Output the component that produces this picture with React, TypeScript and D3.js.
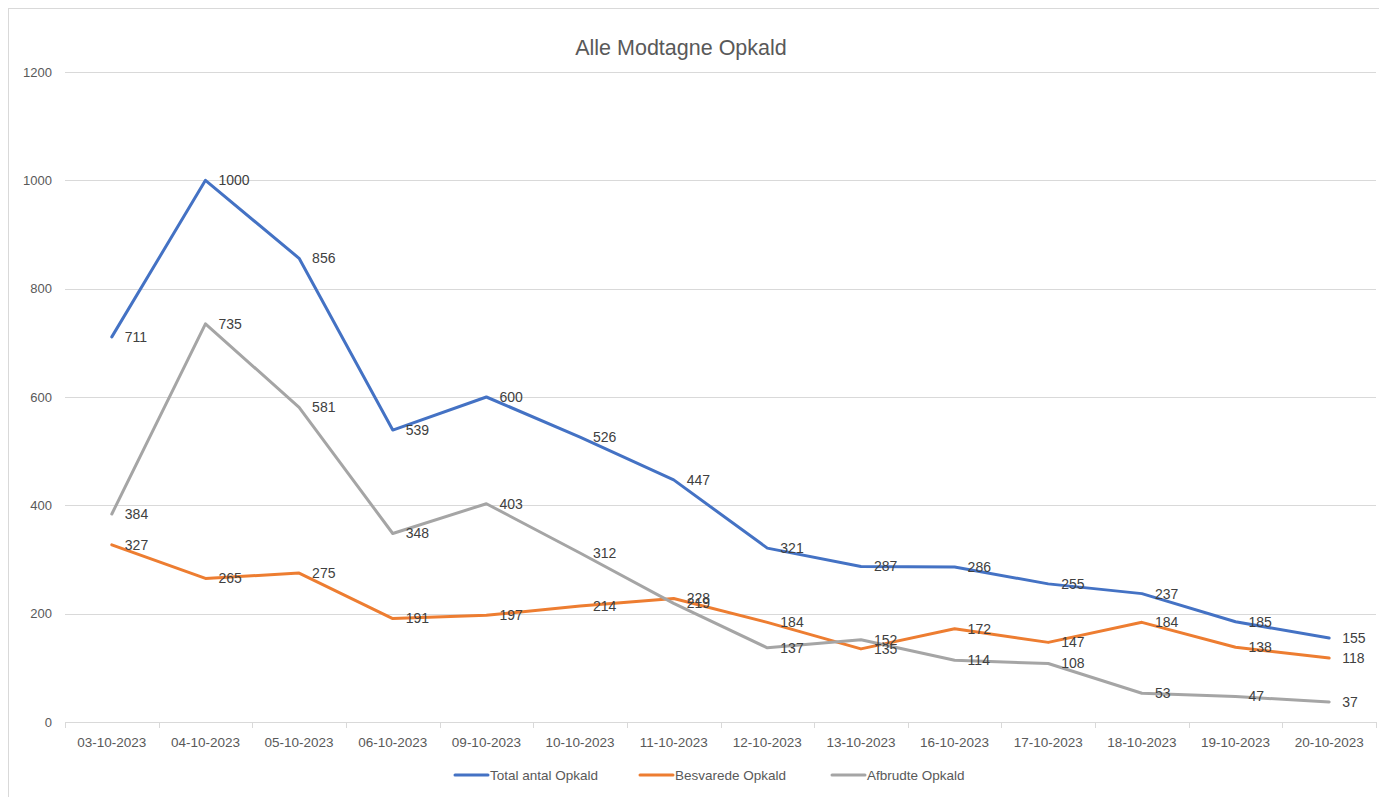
import React from 'react';
import * as d3 from 'd3';

const dates = [
  '03-10-2023', '04-10-2023', '05-10-2023', '06-10-2023', '09-10-2023', '10-10-2023', '11-10-2023',
  '12-10-2023', '13-10-2023', '16-10-2023', '17-10-2023', '18-10-2023', '19-10-2023', '20-10-2023',
];
const totalCalls = [711, 1000, 856, 539, 600, 526, 447, 321, 287, 286, 255, 237, 185, 155];
const answeredCalls = [327, 265, 275, 191, 197, 214, 228, 184, 135, 172, 147, 184, 138, 118];
const droppedCalls = [384, 735, 581, 348, 403, 312, 219, 137, 152, 114, 108, 53, 47, 37];
const yTicks = [0, 200, 400, 600, 800, 1000, 1200];

const series = [
  { name: 'Total antal Opkald', values: totalCalls, color: '#4472C4' },
  { name: 'Besvarede Opkald', values: answeredCalls, color: '#ED7D31' },
  { name: 'Afbrudte Opkald', values: droppedCalls, color: '#A5A5A5' },
];

const W = 1379;
const H = 797;
const FONT = '"Liberation Sans", Arial, sans-serif';

export default function App() {
  const x = d3.scaleBand<string>().domain(dates).range([65, 1376]);
  const y = d3.scaleLinear().domain([0, 1200]).range([722, 72]);
  const cx = (d: string) => (x(d) ?? 0) + x.bandwidth() / 2;

  const line = d3
    .line<number>()
    .x((_, i) => cx(dates[i]))
    .y((v) => y(v));

  // legend positions (line start)
  const legendX = [455, 640, 832];
  const legendY = 775;

  return (
    <svg width={W} height={H} style={{ position: 'absolute', left: 0, top: 0, background: '#fff' }}>
      {/* chart border */}
      <rect x={8.5} y={8.5} width={W + 20} height={H + 20} fill="#fff" stroke="#D9D9D9" />

      <text x={681} y={55} textAnchor="middle" fontFamily={FONT} fontSize={21.5} fill="#595959">
        Alle Modtagne Opkald
      </text>

      {/* gridlines + y labels */}
      {yTicks.map((t) => (
        <g key={t}>
          <line x1={65} x2={1376} y1={Math.round(y(t)) + 0.5} y2={Math.round(y(t)) + 0.5} stroke="#D9D9D9" strokeWidth={1} />
          <text x={52} y={y(t)} dy="0.35em" textAnchor="end" fontFamily={FONT} fontSize={13} fill="#595959">
            {t}
          </text>
        </g>
      ))}

      {/* x axis ticks */}
      {dates.concat(['']).map((d, i) => {
        const xx = Math.round(65 + i * x.step()) + 0.5;
        return <line key={i} x1={xx} x2={xx} y1={722} y2={728} stroke="#D9D9D9" />;
      })}
      {dates.map((d) => (
        <text key={d} x={cx(d)} y={747} textAnchor="middle" fontFamily={FONT} fontSize={13.5} fill="#595959">
          {d}
        </text>
      ))}

      {/* lines */}
      {series.map((s) => (
        <path key={s.name} d={line(s.values) ?? ''} fill="none" stroke={s.color} strokeWidth={3} strokeLinejoin="round" strokeLinecap="round" />
      ))}

      {/* data labels */}
      {series.map((s) =>
        s.values.map((v, i) => (
          <text key={s.name + i} x={cx(dates[i]) + 13} y={y(v)} dy="0.35em" fontFamily={FONT} fontSize={14} fill="#404040">
            {v}
          </text>
        ))
      )}

      {/* legend */}
      {series.map((s, i) => (
        <g key={s.name}>
          <line x1={legendX[i]} x2={legendX[i] + 33} y1={legendY} y2={legendY} stroke={s.color} strokeWidth={3} strokeLinecap="round" />
          <text x={legendX[i] + 35} y={legendY} dy="0.35em" fontFamily={FONT} fontSize={13.5} fill="#595959">
            {s.name}
          </text>
        </g>
      ))}
    </svg>
  );
}
